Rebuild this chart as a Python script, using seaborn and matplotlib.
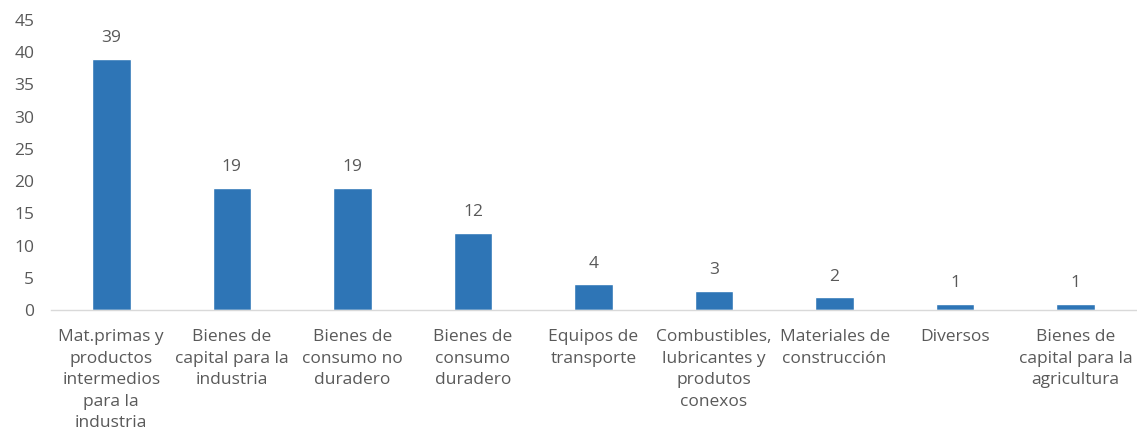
import pandas as pd
import matplotlib
matplotlib.use("Agg")
import matplotlib.pyplot as plt
import seaborn as sns

categories = [
    "Mat.primas y\nproductos\nintermedios\npara la\nindustria",
    "Bienes de\ncapital para la\nindustria",
    "Bienes de\nconsumo no\nduradero",
    "Bienes de\nconsumo\nduradero",
    "Equipos de\ntransporte",
    "Combustibles,\nlubricantes y\nprodutos\nconexos",
    "Materiales de\nconstrucción",
    "Diversos",
    "Bienes de\ncapital para la\nagricultura",
]
values = [39, 19, 19, 12, 4, 3, 2, 1, 1]
y_ticks = [0, 5, 10, 15, 20, 25, 30, 35, 40, 45]

sns.set_theme(style="white")
plt.rcParams["font.family"] = ["Open Sans", "DejaVu Sans"]

text_color = "#595959"
bar_color = "#2E75B6"
fs = 12.5

df = pd.DataFrame({"cat": categories, "val": values})

fig = plt.figure(figsize=(11.37, 4.46), dpi=100)
ax = fig.add_axes([51 / 1137, 136 / 446, 1085 / 1137, 290 / 446])

sns.barplot(data=df, x="cat", y="val", color=bar_color, width=0.32,
            saturation=1, ax=ax)

for i, v in enumerate(values):
    ax.text(i, v + 1.9, str(v), ha="center", va="bottom",
            fontsize=fs, color=text_color)

ax.set_xlim(-0.5, len(categories) - 0.5)
ax.set_ylim(0, 45)
ax.set_yticks(y_ticks)
ax.set_yticklabels([str(t) for t in y_ticks], fontsize=fs, color=text_color)
ax.tick_params(axis="y", length=0, pad=12)
ax.tick_params(axis="x", length=0, pad=14)
for lbl in ax.get_xticklabels():
    lbl.set_fontsize(fs)
    lbl.set_color(text_color)
    lbl.set_linespacing(1.45)
    lbl.set_verticalalignment("top")

ax.set_xlabel("")
ax.set_ylabel("")
for s in ["top", "right", "left"]:
    ax.spines[s].set_visible(False)
ax.spines["bottom"].set_color("#D9D9D9")
ax.spines["bottom"].set_linewidth(1)

fig.savefig("out.png", dpi=100)
